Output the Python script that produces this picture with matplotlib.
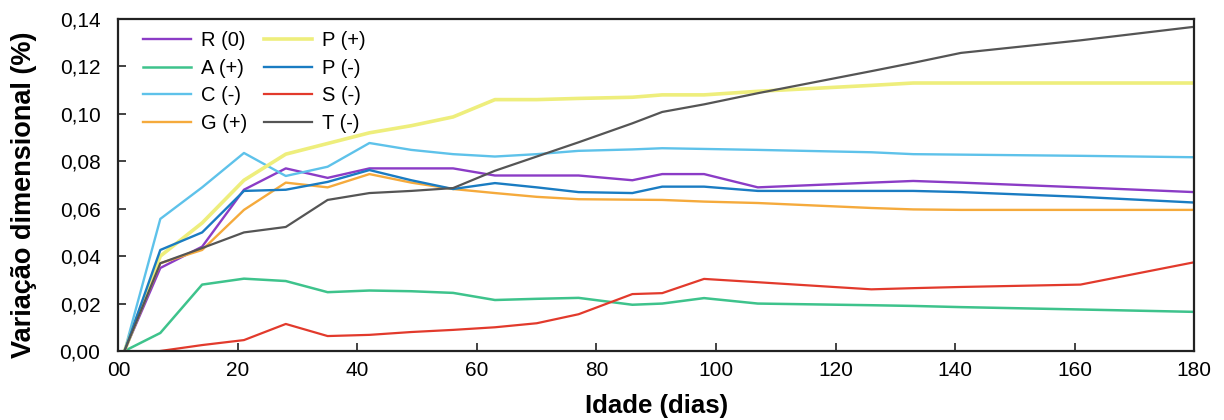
import numpy as np
import matplotlib.pyplot as plt

plt.rcParams['font.family'] = ['Liberation Sans', 'DejaVu Sans']

# ages (days) and dimensional change (%) for each mix
days = [1, 7, 14, 21, 28, 35, 42, 49, 56, 63, 70, 77, 86, 91, 98, 107, 126, 133, 141, 161, 180]

r0 = [0, 0.035, 0.044, 0.068, 0.077, 0.073, 0.077, 0.077, 0.077, 0.074, 0.074, 0.074,
      0.072, 0.0746, 0.0746, 0.069, 0.071, 0.0717, 0.071, 0.069, 0.067]
a_pos = [0, 0.0076, 0.028, 0.0305, 0.0295, 0.0248, 0.0255, 0.0252, 0.0245, 0.0215, 0.022, 0.0224,
         0.0195, 0.020, 0.0223, 0.020, 0.0193, 0.019, 0.0185, 0.0175, 0.0165]
c_neg = [0, 0.0557, 0.069, 0.0835, 0.0738, 0.0777, 0.0877, 0.0848, 0.083, 0.082, 0.083, 0.0844,
         0.085, 0.0855, 0.0852, 0.0848, 0.0838, 0.083, 0.0828, 0.0823, 0.0817]
g_pos = [0, 0.037, 0.0426, 0.0595, 0.071, 0.069, 0.0746, 0.071, 0.0683, 0.0666, 0.065, 0.064,
         0.0638, 0.0637, 0.063, 0.0624, 0.0603, 0.0597, 0.0595, 0.0595, 0.0595]
p_pos = [0, 0.040, 0.054, 0.072, 0.083, 0.0875, 0.092, 0.095, 0.0987, 0.106, 0.106, 0.1065,
         0.107, 0.108, 0.108, 0.1095, 0.112, 0.113, 0.113, 0.113, 0.113]
p_neg = [0, 0.0426, 0.050, 0.0675, 0.068, 0.0713, 0.0763, 0.072, 0.0683, 0.0708, 0.069, 0.067,
         0.0666, 0.0693, 0.0693, 0.0675, 0.0675, 0.0675, 0.067, 0.065, 0.0626]
s_neg = [np.nan, 0.0, 0.0025, 0.0046, 0.0114, 0.0063, 0.0068, 0.008, 0.0089, 0.010, 0.0117, 0.0155,
         0.024, 0.0244, 0.0304, 0.029, 0.026, 0.0265, 0.027, 0.028, 0.0374]
t_neg = [0, 0.037, 0.0434, 0.050, 0.0523, 0.0637, 0.0666, 0.0675, 0.0687, 0.076, 0.082, 0.088,
         0.096, 0.1008, 0.104, 0.1087, 0.118, 0.1215, 0.1257, 0.131, 0.1367]

labels = ['R (0)', 'A (+)', 'C (-)', 'G (+)', 'P (+)', 'P (-)', 'S (-)', 'T (-)']
series = [r0, a_pos, c_neg, g_pos, p_pos, p_neg, s_neg, t_neg]
colors = ['#8b3cc6', '#3ec38c', '#5ec2ea', '#f5aa3c', '#eeee7c', '#1a7cc2', '#e23a2c', '#555555']
widths = [1.7, 1.8, 1.7, 1.7, 2.6, 1.7, 1.6, 1.6]

fig = plt.figure(figsize=(12.24, 4.2), dpi=100)
ax = fig.add_axes([0.0968, 0.1643, 0.8787, 0.7905])

for vals, lab, col, lw in zip(series, labels, colors, widths):
    ax.plot(days, vals, color=col, lw=lw, label=lab)

ax.set_xlim(0, 180)
ax.set_ylim(0, 0.14)
ax.set_xticks(np.arange(0, 181, 20))
ax.set_xticklabels(['00'] + [str(v) for v in range(20, 181, 20)])
ax.set_yticks(np.arange(0, 0.141, 0.02))
ax.set_yticklabels([f'{v:.2f}'.replace('.', ',') for v in np.arange(0, 0.141, 0.02)])
ax.tick_params(direction='in', length=6, width=1.2, labelsize=15, color='#222222')
ax.tick_params(axis='y', pad=13)
ax.tick_params(axis='x', pad=7)
for sp in ax.spines.values():
    sp.set_linewidth(1.6)
    sp.set_color('#222222')

ax.set_xlabel('Idade (dias)', fontsize=18.5, fontweight='bold', labelpad=10)
ax.set_ylabel('Variação dimensional (%)', fontsize=19.5, fontweight='bold')
ax.yaxis.set_label_coords(-0.0755, 0.47)

ax.legend(loc='upper left', bbox_to_anchor=(0.006, 1.017), ncol=2, frameon=False,
          fontsize=14.5, handlelength=2.4, columnspacing=0.8, labelspacing=0.42,
          handletextpad=0.5)

fig.savefig('out.png', dpi=100)
